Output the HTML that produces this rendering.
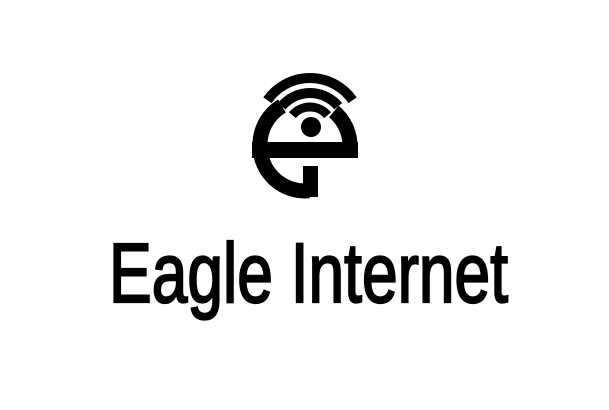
<!DOCTYPE html>
<html><head><meta charset="utf-8"><style>html,body{margin:0;padding:0;background:#fff}svg{display:block}</style></head>
<body>
<svg width="609" height="410" viewBox="0 0 609 410">
  <g fill="none" stroke="#000" stroke-width="15">
    <path d="M260 146 A45 45 0 0 0 309 190.8"/>
    <path d="M260 146 A45 45 0 0 1 282 106"/>
    <path d="M350 146 A45 45 0 0 0 333.9 111.5"/>
    <path stroke-width="10" d="M267.4 100.2 A52 52 0 0 1 352.6 100.2"/>
    <path stroke-width="10" d="M281.7 106.2 A37 37 0 0 1 338.3 106.2"/>
    <path stroke-width="9" d="M292.4 115.2 A23 23 0 0 1 327.6 115.2"/>
  </g>
  <circle cx="311" cy="127" r="10" fill="#000"/>
  <rect x="252" y="142" width="106" height="16" fill="#000"/>
  <rect x="303" y="166" width="15" height="31" fill="#000"/>
  <text x="109" y="302" font-family="'Liberation Sans', sans-serif" font-size="84" textLength="399" lengthAdjust="spacingAndGlyphs" fill="#000" stroke="#000" stroke-width="2.2">Eagle Internet</text>
</svg>
</body></html>
